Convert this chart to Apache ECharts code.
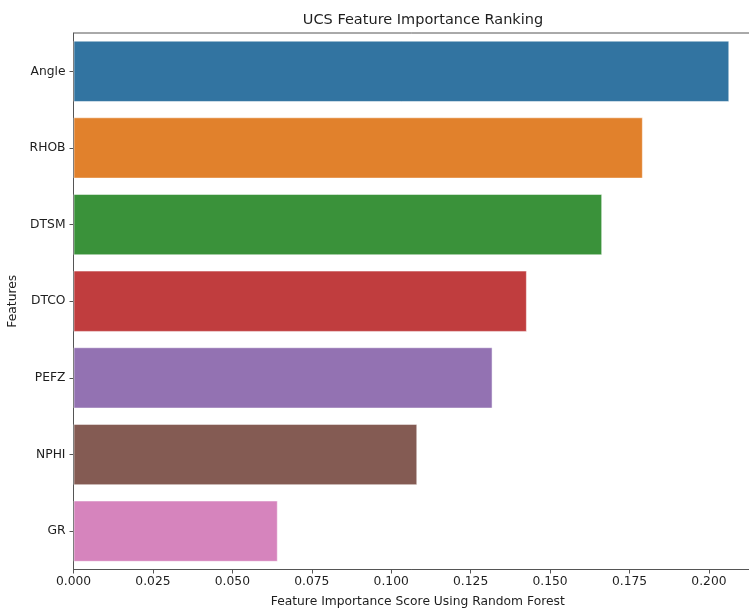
<!DOCTYPE html>
<html>
<head>
<meta charset="utf-8">
<script src="https://cdn.jsdelivr.net/npm/echarts@6/dist/echarts.min.js"></script>
<style>
  html, body { margin: 0; padding: 0; background: #fff; }
  #chart { width: 749px; height: 608px; }
</style>
</head>
<body>
<div id="chart"></div>
<script>
// Feature names, top to bottom
const features = ['Angle', 'RHOB', 'DTSM', 'DTCO', 'PEFZ', 'NPHI', 'GR'];
// Random-forest importance scores for each feature
const scores = [0.2064, 0.1792, 0.1664, 0.1427, 0.1319, 0.1082, 0.0643];
// One colour per bar
const barColors = ['#3274a1', '#e1812c', '#3a923a', '#c03d3e', '#9372b2', '#845b53', '#d684bd'];
// Score axis tick labels
const xTicks = ['0.000', '0.025', '0.050', '0.075', '0.100', '0.125', '0.150', '0.175', '0.200'];

const font = 'DejaVu Sans';
const textColor = '#1e1e1e';
const chart = echarts.init(document.getElementById('chart'), null, { renderer: 'canvas' });

chart.setOption({
  backgroundColor: '#ffffff',
  animation: false,
  title: {
    text: 'UCS Feature Importance Ranking',
    left: 418, top: 8, textAlign: 'center',
    textStyle: { fontFamily: font, fontSize: 14.5, fontWeight: 'normal', color: textColor }
  },
  grid: {
    left: 73.5, top: 33, right: -13, bottom: 38.5,
    outerBoundsMode: 'none', containLabel: false,
    show: true, borderColor: '#555', borderWidth: 1, backgroundColor: 'transparent'
  },
  xAxis: {
    type: 'value', min: 0, max: 0.2167, interval: 0.025,
    name: 'Feature Importance Score Using Random Forest',
    nameLocation: 'middle', nameGap: 26,
    nameTextStyle: { fontFamily: font, fontSize: 12.3, color: textColor },
    axisLine: { show: true, lineStyle: { color: '#555', width: 1 } },
    axisTick: { show: true, length: 4, lineStyle: { color: '#555' } },
    splitLine: { show: false },
    axisLabel: {
      fontFamily: font, fontSize: 12.3, color: textColor, margin: 6,
      formatter: function (v) {
        const i = Math.round(v / 0.025);
        return (Math.abs(v - i * 0.025) < 1e-9 && i < xTicks.length) ? xTicks[i] : '';
      }
    }
  },
  yAxis: {
    type: 'category', data: features, inverse: true,
    name: 'Features', nameLocation: 'middle', nameGap: 52, nameRotate: 90,
    nameTextStyle: { fontFamily: font, fontSize: 12.3, color: textColor },
    axisLine: { show: true, lineStyle: { color: '#555', width: 1 } },
    axisTick: { show: true, alignWithLabel: true, length: 4, lineStyle: { color: '#555' } },
    axisLabel: { fontFamily: font, fontSize: 12.3, color: textColor, margin: 8 }
  },
  series: [{
    type: 'bar',
    barCategoryGap: '20%',
    data: scores.map((v, i) => ({
      value: v,
      itemStyle: { color: barColors[i], borderColor: 'rgba(255,255,255,0.5)', borderWidth: 1 }
    }))
  }]
});
</script>
</body>
</html>
